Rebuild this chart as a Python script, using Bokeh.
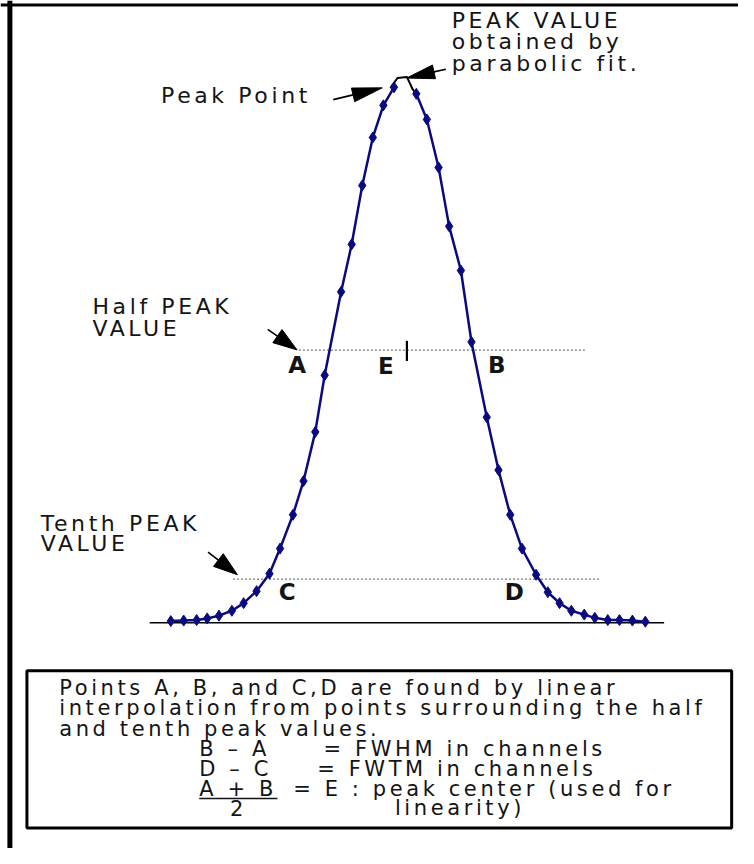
import numpy as np
from bokeh.plotting import figure
from bokeh.models import Span
from bokeh.embed import file_html
from bokeh.resources import INLINE
from bokeh.core.properties import value

# ---- data: channel number and counts of the peak ----
left_ch = [100.0, 101.1, 102.2, 103.1, 104.1, 105.2, 106.2, 107.3, 108.4, 109.3,
           110.4, 111.3, 112.3, 113.1, 114.5, 115.4, 116.3, 117.2, 118.1, 119.0]
left_counts = [3, 4, 5, 8, 13, 22, 36, 58, 90, 136,
               198, 260, 350, 454, 607, 694, 802, 890, 949, 982]
right_ch = [120.9, 121.8, 122.8, 123.7, 124.7, 125.6, 126.9, 127.9, 128.9, 129.9,
            131.1, 132.1, 133.1, 134.1, 135.2, 136.1, 137.2, 138.2, 139.3, 140.4]
right_counts = [970, 923, 835, 727, 646, 515, 377, 280, 198, 136,
                88, 56, 36, 22, 15, 9, 5, 5, 4, 2]

# parabolic fit drawn across the top of the peak
fit_ch = [118.7, 119.3, 120.1, 120.6, 120.9]
fit_counts = [981, 999, 1001, 978, 970]

half_level = 500
tenth_level = 80
baseline_ch = [98.2, 142.0]
half_ch = [110.9, 135.3]
tenth_ch = [105.3, 136.6]
e_ch = 120.1

point_labels = ["A", "E", "B", "C", "D"]
point_label_ch = [110.75, 118.3, 127.75, 109.9, 129.25]
point_label_counts = [472, 470, 472, 56, 56]

# ---- page geometry ----
W, H = 738, 848
x0, x1 = 85.5, 148.3333
y0, y1 = -414.0, 1141.2
pxx = W / (x1 - x0)
pxy = H / (y1 - y0)

p = figure(width=W, height=H, x_range=(x0, x1), y_range=(y0, y1),
           output_backend="svg", toolbar_location=None,
           x_axis_location=None, y_axis_location=None, min_border=0)
p.grid.visible = False
p.outline_line_color = None
p.background_fill_color = "white"
p.border_fill_color = "white"
# the source lettering is set wide
p.styles = {"letter-spacing": "3.6px"}

# outer frame (left and top edges)
p.add_layout(Span(location=86.3, dimension="height", line_color="black", line_width=5))
p.add_layout(Span(location=1133.0, dimension="width", line_color="black", line_width=3))

# baseline
p.line(baseline_ch, [0, 0], line_color="black", line_width=1.6)
# half and tenth level dotted lines
p.line(half_ch, [half_level] * 2, line_color="#777777", line_width=1.2, line_dash="2 2")
p.line(tenth_ch, [tenth_level] * 2, line_color="#777777", line_width=1.2, line_dash="2 2")
# E tick
p.line([e_ch, e_ch], [480, 517], line_color="black", line_width=2.2)

navy = "#0a0a80"
p.line(left_ch, left_counts, line_color=navy, line_width=2.5)
p.line(right_ch, right_counts, line_color=navy, line_width=2.5)
p.line(fit_ch, fit_counts, line_color="black", line_width=2)

p.scatter(left_ch + right_ch, left_counts + right_counts, marker="diamond",
          size=11, fill_color=navy, line_color=navy)

# arrows: start, tip (data), head length/width (px)
arrows = [
    (113.83, 959.4, 118.0, 981.0, 30, 14),
    (123.42, 1015.2, 120.08, 999.0, 28, 14),
    (108.25, 538.2, 110.75, 500.4, 24, 16),
    (103.17, 129.6, 105.67, 88.2, 24, 16),
]
tri_x, tri_y = [], []
for xs0, ys0, xt, yt, L, Wd in arrows:
    dx, dy = (xt - xs0) * pxx, (yt - ys0) * pxy
    n = np.hypot(dx, dy)
    ux, uy = dx / n, dy / n
    bx, by = xt * pxx - ux * L, yt * pxy - uy * L
    vx, vy = -uy, ux
    tri_x.append([xt, (bx + vx * Wd / 2) / pxx, (bx - vx * Wd / 2) / pxx])
    tri_y.append([yt, (by + vy * Wd / 2) / pxy, (by - vy * Wd / 2) / pxy])
    p.line([xs0, bx / pxx], [ys0, by / pxy], line_color="black", line_width=1.6)
p.patches(tri_x, tri_y, fill_color="black", line_color="black", line_width=1)

font = value("DejaVu Sans")
tc = "#141414"

def txt(xv, yv, s, size="22px", align="left", style="normal"):
    p.text(x=[xv], y=[yv], text=[s], text_font=font, text_font_size=size,
           text_align=align, text_baseline="middle", text_color=tc,
           text_font_style=style)

txt(123.92, 1105.2, "PEAK VALUE")
txt(123.92, 1065.6, "obtained by")
txt(123.92, 1026.0, "parabolic fit.")
txt(99.17, 966.6, "Peak Point")
txt(93.33, 579.6, "Half PEAK")
txt(93.33, 540.0, "VALUE")
txt(88.92, 181.8, "Tenth PEAK")
txt(88.92, 145.8, "VALUE")

p.text(x=point_label_ch, y=point_label_counts, text=point_labels, text_font=font,
       text_font_size="23px", text_font_style="bold", text_align="center",
       text_baseline="middle", text_color=tc)

# explanation box
p.quad(left=[87.75], right=[147.75], bottom=[-376.2], top=[-88.2],
       fill_color=None, line_color="black", line_width=3)
bs = "21px"
txt(90.5, -118.8, "Points A, B, and C,D are found by linear", bs)
txt(90.5, -156.6, "interpolation from points surrounding the half", bs)
txt(90.5, -194.4, "and tenth peak values.", bs)
txt(102.42, -232.2, "B \u2013 A", bs)
txt(113.0, -232.2, "= FWHM in channels", bs)
txt(102.42, -268.2, "D \u2013 C", bs)
txt(112.46, -268.2, "= FWTM in channels", bs)
txt(102.42, -304.2, "A + B", bs)
txt(110.42, -304.2, "= E :  peak center (used for", bs)
txt(105.6, -340.2, "2", bs, align="center")
txt(119.08, -340.2, "linearity)", bs)
p.line([102.42, 109.08], [-322.2, -322.2], line_color=tc, line_width=1.5)

open("out.html", "w").write(file_html(p, INLINE))
